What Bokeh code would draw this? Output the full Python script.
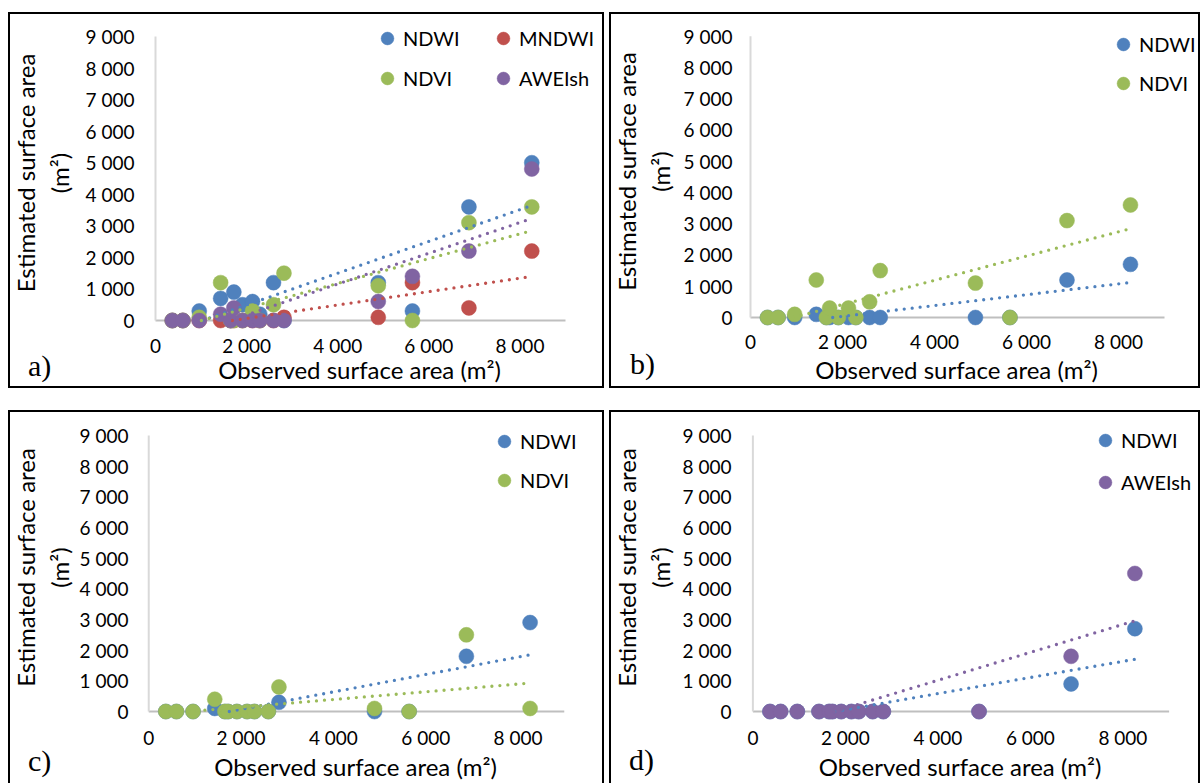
import numpy as np
from bokeh.plotting import figure
from bokeh.models import Range1d, FixedTicker, Legend, LegendItem, Spacer, Div, GridBox
from bokeh.layouts import row, column
from bokeh.embed import file_html
from bokeh.resources import INLINE

nan = float("nan")

# ---------------- data ----------------
observed = [370, 600, 960, 1430, 1650, 1720, 1910, 2130, 2290, 2590, 2820, 4890, 5640, 6880, 8260]

a_ndwi   = [0, 0, 300, 700, 0, 900, 500, 600, 200, 1200, 0, 1200, 300, 3600, 5000]
a_mndwi  = [0, 0, 0, 0, 0, 0, 0, 0, 0, 0, 100, 100, 1200, 400, 2200]
a_ndvi   = [0, 0, 100, 1200, 0, 0, 0, 300, 0, 500, 1500, 1100, 0, 3100, 3600]
a_aweish = [0, 0, 0, 200, 0, 400, 0, 0, 0, 0, 0, 600, 1400, 2200, 4800]

b_ndwi = [0, 0, 0, 100, 0, 0, 0, 0, 0, 0, 0, 0, 0, 1200, 1700]
b_ndvi = [0, 0, 100, 1200, 0, 300, 0, 300, 0, 500, 1500, 1100, 0, 3100, 3600]

c_ndwi = [0, 0, 0, 100, 0, 0, 0, 0, 0, 0, 300, 0, 0, 1800, 2900]
c_ndvi = [0, 0, 0, 400, 0, 0, 0, 0, 0, 0, 800, 100, 0, 2500, 100]

d_ndwi   = [0, 0, 0, 0, 0, 0, 0, 0, 0, 0, 0, 0, nan, 900, 2700]
d_aweish = [0, 0, 0, 0, 0, 0, 0, 0, 0, 0, 0, 0, nan, 1800, 4500]

x_ticks = [0, 2000, 4000, 6000, 8000]
x_tick_labels = ["0", "2 000", "4 000", "6 000", "8 000"]
y_ticks = [0, 1000, 2000, 3000, 4000, 5000, 6000, 7000, 8000, 9000]
y_tick_labels = ["0", "1 000", "2 000", "3 000", "4 000", "5 000", "6 000", "7 000", "8 000", "9 000"]
axis_max = 9000

x_title = "Observed surface area (m²)"
y_title = "Estimated surface area\n(m²)"

colors = {"NDWI": "#4F81BD", "MNDWI": "#C0504D", "NDVI": "#9BBB59", "AWEIsh": "#8064A2"}
FONT = "Lato"


def make_panel(g, series, legend_cols, tag, bottom_open):
    bx, by, W, H = g["box"]
    x0, x9, y0, y9 = g["x0"], g["x9"], g["y0"], g["y9"]
    padl, padb = 2, 10
    dx = axis_max / (x9 - x0)
    dy = axis_max / (y0 - y9)
    fr = bx + W - 3              # frame reaches the right border so the legend is not clipped
    ext = fr - x9                # same extension on the left keeps the x title centred on the axis
    fl, ft, fb = x0 - padl - ext, by + 3, y0 + padb
    p = figure(width=W, height=H,
               x_range=Range1d(-(padl + ext) * dx, axis_max + ext * dx),
               y_range=Range1d(-padb * dy, axis_max + (y9 - ft) * dy),
               min_border_left=round(fl - bx), min_border_right=round(bx + W - fr),
               min_border_top=round(ft - by), min_border_bottom=round(by + H - fb),
               toolbar_location=None, output_backend="svg")
    p.border_fill_color = None
    p.background_fill_color = None
    p.outline_line_color = None
    p.xgrid.visible = False
    p.ygrid.visible = False
    if bottom_open:
        p.styles = {"box-shadow": "inset 2px 2px 0 0 black, inset -2px 0 0 0 black"}
    else:
        p.styles = {"box-shadow": "inset 0 0 0 2px black"}

    for ax in (p.xaxis[0], p.yaxis[0]):
        ax.axis_line_color = None
        ax.major_tick_line_color = None
        ax.minor_tick_line_color = None
        ax.major_tick_out = 0
        ax.major_tick_in = 0
        ax.major_label_text_font = FONT
        ax.major_label_text_font_size = "19px"
        ax.major_label_text_color = "black"
        ax.axis_label_text_font = FONT
        ax.axis_label_text_font_size = "24px"
        ax.axis_label_text_font_style = "normal"
        ax.axis_label_text_color = "black"

    p.xaxis.ticker = FixedTicker(ticks=x_ticks)
    p.xaxis.major_label_overrides = dict(zip(x_ticks, x_tick_labels))
    p.yaxis.ticker = FixedTicker(ticks=y_ticks)
    p.yaxis.major_label_overrides = dict(zip(y_ticks, y_tick_labels))
    p.xaxis.axis_label = x_title
    p.yaxis.axis_label = y_title
    p.yaxis.axis_label_text_line_height = 1.15
    p.yaxis.major_label_standoff = round(fl - g["ytick_right"])
    p.yaxis.axis_label_standoff = max(0, round((g["ytick_right"] - 49) - (bx + 56) - 12))
    p.xaxis.major_label_standoff = max(0, round(g["xtick_cy"] - fb - 14))
    p.xaxis.axis_label_standoff = round((g["xtitle_cy"] - g["xtick_cy"]) - 28)

    # axis lines through zero
    p.segment(x0=[0, 0], y0=[0, 0], x1=[axis_max, 0], y1=[0, axis_max],
              line_color=["#BFBFBF", "#D9D9D9"], line_width=2)

    rends = {}
    for name, vals in series:
        rends[name] = p.scatter(observed, vals, size=15, fill_color=colors[name],
                                line_color=colors[name], line_width=0.5)
    for name, vals in series:
        x = np.array(observed, dtype=float)
        y = np.array(vals, dtype=float)
        ok = ~np.isnan(y)
        x, y = x[ok], y[ok]
        m, b = np.polyfit(x, y, 1)
        xs = max(x.min(), -b / m)
        xe = x.max()
        p.line([xs, xe], [m * xs + b, m * xe + b], line_color=colors[name], line_width=3.3,
               line_dash="0 8", line_cap="round")

    pitch = g["legend_pitch"]
    for names, (mx, my) in legend_cols:
        n = len(names)
        top = my - 16
        bottom = top + n * 32 + (n - 1) * (pitch - 32)
        leg = Legend(items=[LegendItem(label=nm, renderers=[rends[nm]]) for nm in names],
                     location=(round(mx - 16 - fl), round(fb - bottom)),
                     orientation="vertical", padding=0, margin=0, spacing=pitch - 32,
                     glyph_width=32, glyph_height=32, label_standoff=0, label_height=32,
                     label_text_font=FONT, label_text_font_size="20px", label_text_color="black",
                     background_fill_alpha=0, border_line_alpha=0)
        p.add_layout(leg)

    # panel tag (a), b), ...) overlaid in the same grid cell
    lx, base = g["tag_pos"]
    div = Div(text=tag, width=44, height=36,
              margin=(round(base - 28.7 - by), 0, 0, round(lx - 1 - bx)),
              styles={"font-family": "Liberation Serif", "font-size": "30px",
                      "line-height": "34px", "color": "black"})
    return GridBox(children=[(p, 0, 0), (div, 0, 0)])


ga = dict(box=(8, 12, 596, 376), x0=155, x9=565, y0=320, y9=36, ytick_right=134,
          xtick_cy=347, xtitle_cy=370, legend_pitch=40, tag_pos=(29, 378))
gb = dict(box=(609, 12, 591, 376), x0=750, x9=1164, y0=316.7, y9=35.7, ytick_right=731.6,
          xtick_cy=343, xtitle_cy=370, legend_pitch=39, tag_pos=(631, 376))
gc = dict(box=(8, 410, 596, 373), x0=148.7, x9=563.8, y0=711.7, y9=435, ytick_right=128,
          xtick_cy=740, xtitle_cy=768, legend_pitch=39, tag_pos=(29, 773))
gd = dict(box=(609, 410, 591, 373), x0=752.2, x9=1168.6, y0=712.3, y9=435, ytick_right=731,
          xtick_cy=740, xtitle_cy=768, legend_pitch=42, tag_pos=(630, 772))

pa = make_panel(ga, [("NDWI", a_ndwi), ("MNDWI", a_mndwi), ("NDVI", a_ndvi), ("AWEIsh", a_aweish)],
                [(["NDWI", "NDVI"], (387, 38)), (["MNDWI", "AWEIsh"], (503, 38))], "a)", False)
pb = make_panel(gb, [("NDWI", b_ndwi), ("NDVI", b_ndvi)],
                [(["NDWI", "NDVI"], (1123, 44))], "b)", False)
pc = make_panel(gc, [("NDWI", c_ndwi), ("NDVI", c_ndvi)],
                [(["NDWI", "NDVI"], (504, 442))], "c)", True)
pd = make_panel(gd, [("NDWI", d_ndwi), ("AWEIsh", d_aweish)],
                [(["NDWI", "AWEIsh"], (1105, 441))], "d)", True)

layout = column(Spacer(width=1200, height=12),
                row(Spacer(width=8, height=376), pa, Spacer(width=5, height=376), pb, spacing=0),
                Spacer(width=1200, height=22),
                row(Spacer(width=8, height=373), pc, Spacer(width=5, height=373), pd, spacing=0),
                spacing=0)

open("out.html", "w").write(file_html(layout, INLINE))
